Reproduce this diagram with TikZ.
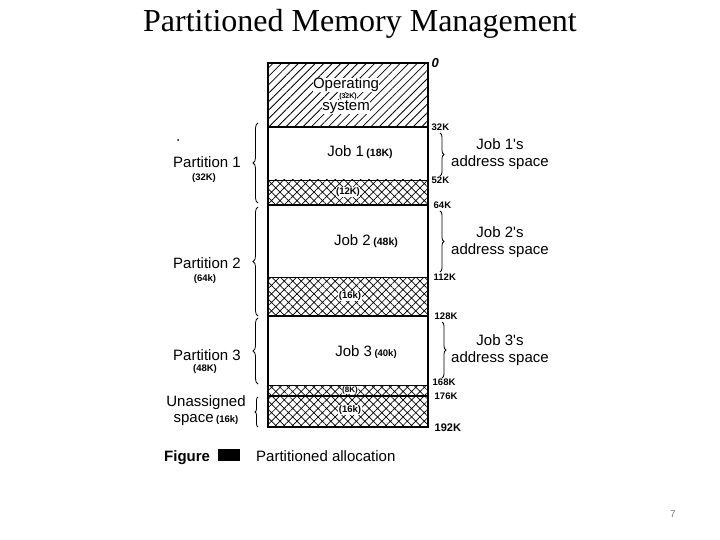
\documentclass[tikz,border=0pt]{standalone}
\usepackage{fontspec}
\setmainfont{Liberation Serif}
\newfontfamily\scanfont{Liberation Sans}
\usetikzlibrary{patterns.meta,decorations.pathreplacing}
\begin{document}
\begin{tikzpicture}[x=1pt,y=-1pt,
  lbl/.style={font=\scanfont\fontsize{15}{17}\selectfont, inner sep=1pt},
  hand/.style={font=\scanfont\bfseries\fontsize{9.5}{10}\selectfont, inner sep=0.5pt},
  addr/.style={font=\scanfont\bfseries\fontsize{9.5}{10}\selectfont, anchor=west, inner sep=0.5pt},
  osfill/.style={pattern={Lines[angle=45,distance=6pt,line width=0.8pt]}},
  xfill/.style={pattern={Hatch[angle=45,distance=6pt,line width=0.7pt]}},
  bnd/.style={line width=1.6pt},
  thin bnd/.style={line width=0.9pt},
  lbrace/.style={decorate,decoration={brace,amplitude=5pt},line width=0.8pt},
  rbrace/.style={decorate,decoration={brace,amplitude=4pt},line width=0.8pt}]
\useasboundingbox (0,0) rectangle (720,540);
\node[font=\fontsize{32}{34}\selectfont] (title) at (360,24) {Partitioned Memory Management};
% memory column
\coordinate (tl) at (268,63);
\coordinate (br) at (428,427);
\fill[osfill] (268,63) rectangle (428,127);
\fill[xfill] (268,180) rectangle (428,205);
\fill[xfill] (268,277) rectangle (428,316);
\fill[xfill] (268,385) rectangle (428,427);
\draw[bnd] (tl) rectangle (br);
\draw[bnd] (268,127) -- (428,127);
\draw[bnd] (268,205) -- (428,205);
\draw[bnd] (268,316) -- (428,316);
\draw[bnd] (268,396) -- (428,396);
\draw[thin bnd] (268,180) -- (428,180);
\draw[thin bnd] (268,277) -- (428,277);
\draw[thin bnd] (268,385) -- (428,385);
% inside texts
\node[lbl, fill=white, inner sep=0.5pt] (os1) at (346,85) {Operating};
\node[hand, fill=white, font=\scanfont\bfseries\fontsize{7}{7}\selectfont] (os2) at (348,96.5) {(32K)};
\node[lbl, fill=white, inner sep=0.5pt] (os3) at (346,107) {system};
\node[lbl] (j1) at (360,152) {Job 1\,{\scanfont\bfseries\fontsize{10.5}{10}\selectfont(18K)}};
\node[hand, fill=white] (f1) at (348,192) {(12K)};
\node[lbl] (j2) at (366,241) {Job 2\,{\scanfont\bfseries\fontsize{10.5}{10}\selectfont(48k)}};
\node[hand, fill=white] (f2) at (350,296) {(16k)};
\node[lbl] (j3) at (366,352) {Job 3\,{\scanfont\bfseries\fontsize{9.5}{10}\selectfont(40k)}};
\node[hand, fill=white, font=\scanfont\bfseries\fontsize{8}{8}\selectfont] (f3) at (350,390) {(8K)};
\node[hand, fill=white] (f4) at (350,410) {(16k)};
% right addresses
\node[addr] (a0) at (431,63) {\fontsize{13}{13}\selectfont\itshape 0};
\node[addr] (a32) at (431,127) {32K};
\node[addr] (a52) at (431,180) {52K};
\node[addr] (a64) at (433,205) {64K};
\node[addr] (a112) at (433,277) {112K};
\node[addr] (a128) at (434,316) {128K};
\node[addr] (a168) at (432,382) {168K};
\node[addr] (a176) at (434,396) {176K};
\node[addr] (a192) at (434,428) {\fontsize{11}{11}\selectfont 192K};
% right braces
\coordinate (rb1t) at (440,133); \coordinate (rb1b) at (440,176);
\coordinate (rb2t) at (440,211); \coordinate (rb2b) at (440,272);
\coordinate (rb3t) at (442,322); \coordinate (rb3b) at (442,378);
\draw[rbrace] (rb1t) -- (rb1b);
\draw[rbrace] (rb2t) -- (rb2b);
\draw[rbrace] (rb3t) -- (rb3b);
\node[lbl, align=center] (s1) at (500,154) {Job 1's\\address space};
\node[lbl, align=center] (s2) at (500,242) {Job 2's\\address space};
\node[lbl, align=center] (s3) at (500,350) {Job 3's\\address space};
% left braces
\coordinate (lb1t) at (258,123); \coordinate (lb1b) at (258,203);
\coordinate (lb2t) at (258,207); \coordinate (lb2b) at (258,316);
\coordinate (lb3t) at (258,318); \coordinate (lb3b) at (258,384);
\coordinate (lb4t) at (258,397); \coordinate (lb4b) at (258,427);
\draw[lbrace] (lb1b) -- (lb1t);
\draw[lbrace] (lb2b) -- (lb2t);
\draw[lbrace] (lb3b) -- (lb3t);
\draw[lbrace,decoration={brace,amplitude=3pt}] (lb4b) -- (lb4t);
\node[lbl] (p1) at (207,162) {Partition 1};
\node[hand] (p1s) at (204,178) {(32K)};
\node[lbl] (p2) at (207,263) {Partition 2};
\node[hand] (p2s) at (205,279) {(64k)};
\node[lbl] (p3) at (207,355) {Partition 3};
\node[hand] (p3s) at (205,369) {(48K)};
\node[lbl] (u1) at (206,403) {Unassigned};
\node[lbl] (u2) at (206,420) {space\,{\scanfont\bfseries\fontsize{9.5}{10}\selectfont(16k)}};
\fill (178,140) circle (1pt);
% caption
\node[font=\scanfont\bfseries\fontsize{15}{16}\selectfont, anchor=base west, inner sep=0pt] (fig) at (164,461) {Figure};
\fill (218,449) rectangle (240,461);
\node[lbl, anchor=base west, inner sep=0pt] (cap) at (256,461) {Partitioned allocation};
\node[font=\scanfont\fontsize{10}{10}\selectfont, text=gray] (pg) at (673,514) {7};
\end{tikzpicture}
\end{document}
